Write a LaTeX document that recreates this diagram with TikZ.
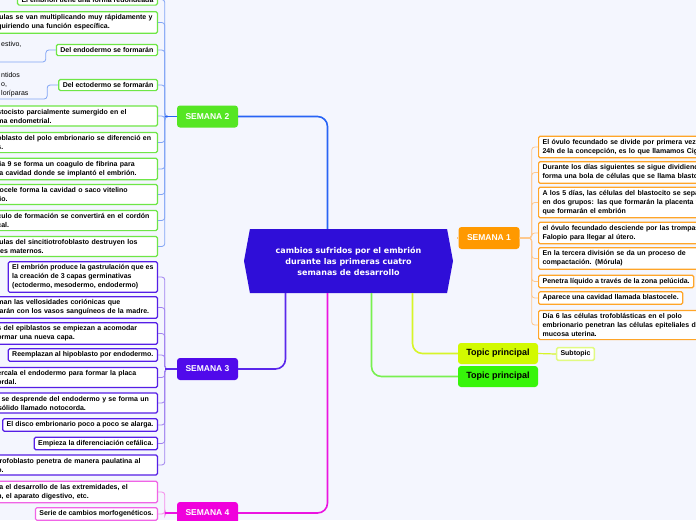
\documentclass[tikz,border=0pt]{standalone}
\usepackage{fontspec}
\setmainfont{Liberation Sans}
\newfontfamily\titlefont{DejaVu Sans}
\usepackage{tikz}
\usetikzlibrary{shapes.symbols, positioning}
\definecolor{bgpage}{RGB}{244,246,254}
\definecolor{core}{RGB}{47,14,216}
\definecolor{week1}{RGB}{255,153,0}
\definecolor{week2}{RGB}{85,230,35}
\definecolor{week3}{RGB}{80,10,235}
\definecolor{week4}{RGB}{240,0,220}
\definecolor{topic1}{RGB}{210,250,0}
\definecolor{topic2}{RGB}{55,245,10}
\definecolor{leaf1}{RGB}{255,165,40}
\definecolor{leaf2}{RGB}{110,230,70}
\definecolor{leaf3}{RGB}{85,30,230}
\definecolor{leaf4}{RGB}{240,100,230}
\definecolor{leafsub}{RGB}{225,250,130}
\definecolor{line1}{RGB}{255,195,125}
\definecolor{line2}{RGB}{40,100,245}
\definecolor{line3}{RGB}{90,40,235}
\definecolor{line4}{RGB}{235,20,225}
\definecolor{linet1}{RGB}{215,245,40}
\definecolor{linet2}{RGB}{120,240,80}
\definecolor{link1}{RGB}{255,200,140}
\definecolor{link2}{RGB}{130,165,245}
\definecolor{link3}{RGB}{160,130,240}
\definecolor{link4}{RGB}{245,140,235}

\begin{document}
\begin{tikzpicture}[x=1pt, y=-1pt,
    centre/.style={shape=signal, signal to=west and east, signal pointer angle=159, fill=core, minimum width=209pt, minimum height=64pt, inner sep=0pt, text=white, align=center, font=\titlefont\fontsize{8}{11}\selectfont\bfseries},
    semana/.style={rounded corners=3pt, minimum width=61pt, minimum height=22pt, inner sep=2pt, text=white, font=\fontsize{8.5}{10}\selectfont\bfseries},
    topic/.style={rounded corners=3pt, minimum width=80pt, minimum height=21pt, inner sep=2pt, font=\fontsize{9}{11}\selectfont\bfseries},
    leaf/.style={draw, fill=white, rounded corners=1.5pt, line width=1.2pt, inner xsep=4pt, inner ysep=3pt, align=left, font=\fontsize{7}{9}\selectfont\bfseries},
    cutleft/.style={leaf, inner xsep=3pt, text width=157pt, anchor=east},
    fullleft/.style={leaf, anchor=east},
    cutright/.style={leaf, text width=200pt, anchor=west},
    fullright/.style={leaf, anchor=west},
    plain/.style={inner sep=0pt, align=left, font=\fontsize{7}{9}\selectfont},
    mainline/.style={line width=1.6pt, rounded corners=10pt},
    sublink/.style={line width=0.8pt, rounded corners=3pt}
]
    \useasboundingbox (0,0) rectangle (696,520);
    \clip (0,0) rectangle (696,520);
    \fill[bgpage] (0,0) rectangle (696,520);

    \node[centre, name=c] at(348.5,261) {cambios sufridos por el embrión\\durante las primeras cuatro\\semanas de desarrollo};

    \node[semana, fill=week1, name=s1] at(489,238) {SEMANA 1};
    \node[semana, fill=week2, name=s2] at(207.5,116.5) {SEMANA 2};
    \node[semana, fill=week3, name=s3] at(207.5,369) {SEMANA 3};
    \node[semana, fill=week4, name=s4] at(207.5,513) {SEMANA 4};
    \node[topic, fill=topic1, name=t1] at(498,353.5) {Topic principal};
    \node[topic, fill=topic2, name=t2] at(498,376.5) {Topic principal};
    \node[leaf, draw=leafsub, line width=1.5pt, name=sub] at(575.5,354) {Subtopic};

    % semana 1
    \node[cutright, draw=leaf1, name=r1] at(538,147) {El óvulo fecundado se divide por primera vez\\24h de la concepción, es lo que llamamos Cig};
    \node[cutright, draw=leaf1, name=r2] at(538,172.5) {Durante los días siguientes se sigue dividiend\\forma una bola de células que se llama blasto};
    \node[cutright, draw=leaf1, name=r3] at(538,202.5) {A los 5 días, las células del blastocito se sepa\\en dos grupos: las que formarán la placenta y\\que formarán el embrión};
    \node[cutright, draw=leaf1, name=r4] at(538,233) {el óvulo fecundado desciende por las trompas\\Falopio para llegar al útero.};
    \node[cutright, draw=leaf1, name=r5] at(538,258.5) {En la tercera división se da un proceso de\\compactación. (Mórula)};
    \node[fullright, draw=leaf1, name=r6] at(538,281.5) {Penetra líquido a través de la zona pelúcida.};
    \node[fullright, draw=leaf1, name=r7] at(538,298) {Aparece una cavidad llamada blastocele.};
    \node[cutright, draw=leaf1, name=r8] at(538,325) {Día 6 las células trofoblásticas en el polo\\embrionario penetran las células epiteliales de\\mucosa uterina.};

    % semana 2
    \node[fullleft, draw=leaf2, name=g0] at(158,-0.5) {El embrión tiene una forma redondeada};
    \node[cutleft, draw=leaf2, name=g1] at(158,22.5) {lulas se van multiplicando muy rápidamente y\\quiriendo una función específica.};
    \node[fullleft, draw=leaf2, name=g2] at(158,50) {Del endodermo se formarán};
    \node[fullleft, draw=leaf2, name=g3] at(158,85) {Del ectodermo se formarán};
    \node[cutleft, draw=leaf2, name=g4] at(158,116) {stocisto parcialmente sumergido en el\\ma endometrial.};
    \node[cutleft, draw=leaf2, name=g5] at(158,142.5) {oblasto del polo embrionario se diferenció en\\s.};
    \node[cutleft, draw=leaf2, name=g6] at(158,169) {lia 9 se forma un coagulo de fibrina para\\la cavidad donde se implantó el embrión.};
    \node[cutleft, draw=leaf2, name=g7] at(158,194.5) {tocele forma la cavidad o saco vitelino\\lio.};
    \node[cutleft, draw=leaf2, name=g8] at(158,220.5) {culo de formación se convertirá en el cordón\\cal.};
    \node[cutleft, draw=leaf2, name=g9] at(158,246.5) {lulas del sincitiotrofoblasto destruyen los\\res maternos.};
    \node[plain, anchor=north west, name=g2a] at(1,41) {estivo,};
    \node[plain, anchor=north west, name=g3a] at(1,72) {ntidos\\o,\\loríparas};
    \coordinate (g2e) at(-2,62);
    \coordinate (g3e) at(-2,99);

    % semana 3
    \node[fullleft, draw=leaf3, name=p1] at(158,277) {El embrión produce la gastrulación que es\\la creación de 3 capas germinativas\\(ectodermo, mesodermo, endodermo)};
    \node[cutleft, draw=leaf3, name=p2] at(158,307.5) {man las vellosidades coriónicas que\\tarán con los vasos sanguíneos de la madre.};
    \node[cutleft, draw=leaf3, name=p3] at(158,333.5) {s del epiblastos se empiezan a acomodar\\ormar una nueva capa.};
    \node[fullleft, draw=leaf3, name=p4] at(158,355) {Reemplazan al hipoblasto por endodermo.};
    \node[cutleft, draw=leaf3, name=p5] at(158,377.5) {ercala el endodermo para formar la placa\\ordal.};
    \node[cutleft, draw=leaf3, text width=163pt, name=p6] at(158,403) {ca se desprende del endodermo y se forma un\\n sólido llamado notocorda.};
    \node[fullleft, draw=leaf3, name=p7] at(158,425) {El disco embrionario poco a poco se alarga.};
    \node[fullleft, draw=leaf3, name=p8] at(158,443.5) {Empieza la diferenciación cefálica.};
    \node[cutleft, draw=leaf3, name=p9] at(158,465) {trofoblasto penetra de manera paulatina al\\o.};

    % semana 4
    \node[cutleft, draw=leaf4, name=m1] at(158,492) {la el desarrollo de las extremidades, el\\n, el aparato digestivo, etc.};
    \node[fullleft, draw=leaf4, name=m2] at(158,514) {Serie de cambios morfogenéticos.};

    % main branches
    \draw[mainline, line2] (s2.east) -| ([xshift=-21pt]c.north);
    \draw[mainline, line1, shorten >=4pt] (s1.west) -- (s1.west -| c.east);
    \draw[mainline, line3] ([xshift=-63pt]c.south) |- (s3.east);
    \draw[mainline, line4] ([xshift=-21pt]c.south) |- (s4.east);
    \draw[mainline, linet1] ([xshift=64pt]c.south) |- (t1.west);
    \draw[mainline, linet2] ([xshift=23pt]c.south) |- (t2.west);
    \draw[sublink, linet1, line width=1.2pt] (t1.east) -- (sub.west);

    % sub branches
    \foreach \n in {1,...,8}
        \draw[sublink, link1] (s1.east) -- ++(12,0) |- (r\n.west);
    \foreach \n in {0,...,9}
        \draw[sublink, link2] (s2.west) -- ++(-12,0) |- (g\n.east);
    \draw[line width=1.6pt, line2] (s2.west) -- ++(-12,0);
    \draw[sublink, link2] (g2.west) -- ++(-10,0) |- (g2e);
    \draw[sublink, link2] (g3.west) -- ++(-11,0) |- (g3e);
    \foreach \n in {1,...,9}
        \draw[sublink, link3] (s3.west) -- ++(-12,0) |- (p\n.east);
    \draw[line width=1.6pt, line3] (s3.west) -- ++(-12,0);
    \foreach \n in {1,2}
        \draw[sublink, link4] (s4.west) -- ++(-12,0) |- (m\n.east);
    \draw[line width=1.6pt, line4] (s4.west) -- ++(-12,0);
\end{tikzpicture}
\end{document}
